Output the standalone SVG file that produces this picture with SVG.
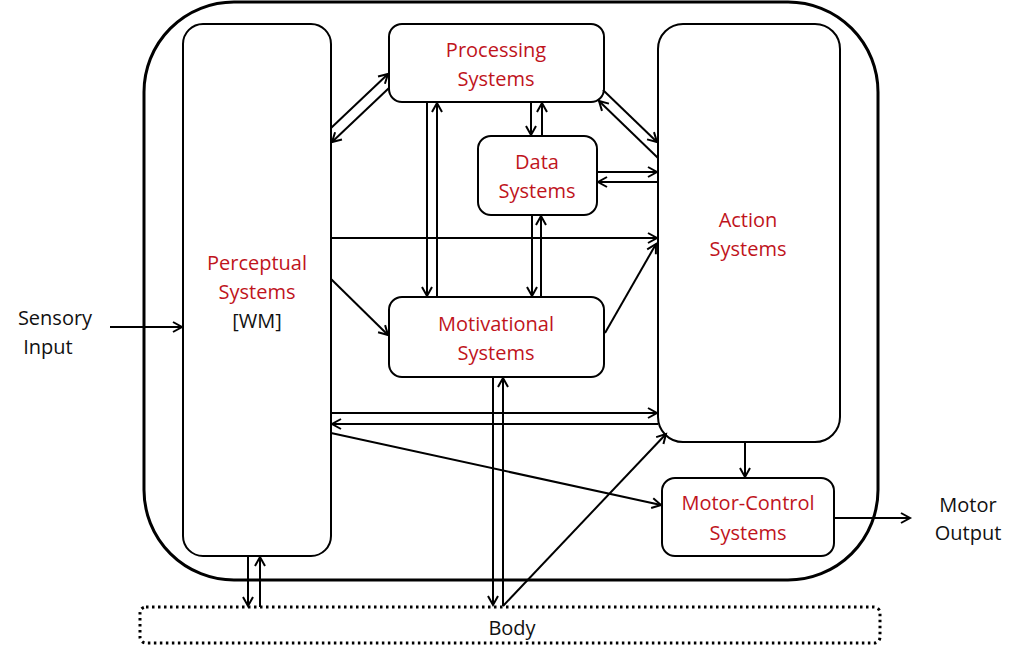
<svg xmlns="http://www.w3.org/2000/svg" width="1024" height="652" viewBox="0 0 1024 652">
<style>
.box{fill:#fff;stroke:#000;stroke-width:2}
.lbl{font-family:"Open Sans","Liberation Sans",sans-serif;font-size:20px;fill:#c0141c;text-anchor:middle}
.blk{font-family:"Open Sans","Liberation Sans",sans-serif;font-size:20px;fill:#111;text-anchor:middle}
.c line{stroke:#000;stroke-width:2;marker-end:url(#ah)}
</style>
<defs>
<marker id="ah" markerUnits="userSpaceOnUse" markerWidth="14" markerHeight="14" refX="10" refY="6" orient="auto" viewBox="0 0 14 12">
<path d="M1,1 L10,6 L1,11" fill="none" stroke="#000" stroke-width="2"/>
</marker>
</defs>
<rect width="1024" height="652" fill="#fff"/>
<g id="outer"><rect x="144" y="2" width="734" height="578" rx="90" ry="90" fill="none" stroke="#000" stroke-width="3"/></g>
<g id="body"><rect x="140" y="607" width="740" height="36" rx="6" fill="none" stroke="#000" stroke-width="3" stroke-dasharray="2.5 3.5"/><text class="blk" x="512" y="635">Body</text></g>
<g id="perceptual"><rect class="box" x="183" y="24" width="148" height="532" rx="20"/>
<text class="lbl" x="257" y="270">Perceptual</text><text class="lbl" x="257" y="299">Systems</text><text class="blk" x="257" y="328">[WM]</text></g>
<g id="processing"><rect class="box" x="389" y="24" width="215" height="78" rx="13"/>
<text class="lbl" x="496" y="57">Processing</text><text class="lbl" x="496" y="86">Systems</text></g>
<g id="data"><rect class="box" x="478" y="136" width="119" height="79" rx="13"/>
<text class="lbl" x="537" y="169">Data</text><text class="lbl" x="537" y="198">Systems</text></g>
<g id="motivational"><rect class="box" x="389" y="297" width="215" height="80" rx="13"/>
<text class="lbl" x="496" y="331">Motivational</text><text class="lbl" x="496" y="360">Systems</text></g>
<g id="action"><rect class="box" x="658" y="24" width="182" height="418" rx="25"/>
<text class="lbl" x="748" y="227">Action</text><text class="lbl" x="748" y="256">Systems</text></g>
<g id="motor"><rect class="box" x="662" y="478" width="172" height="78" rx="13"/>
<text class="lbl" x="748" y="510">Motor-Control</text><text class="lbl" x="748" y="540">Systems</text></g>
<g id="sensory"><text class="blk" x="55" y="325">Sensory</text><text class="blk" x="48" y="354">Input</text></g>
<g id="output"><text class="blk" x="968" y="512">Motor</text><text class="blk" x="968" y="540">Output</text></g>
<g class="c" id="connectors">
<line x1="110" y1="327" x2="182" y2="327"/>
<line x1="331" y1="128" x2="388" y2="74"/>
<line x1="389" y1="88" x2="332" y2="142"/>
<line x1="427" y1="102" x2="427" y2="296"/>
<line x1="437" y1="297" x2="437" y2="103"/>
<line x1="531" y1="102" x2="531" y2="135"/>
<line x1="542" y1="136" x2="542" y2="103"/>
<line x1="532" y1="215" x2="532" y2="296"/>
<line x1="541" y1="297" x2="541" y2="216"/>
<line x1="597" y1="172" x2="657" y2="172"/>
<line x1="658" y1="182" x2="598" y2="182"/>
<line x1="603" y1="90" x2="657" y2="142"/>
<line x1="658" y1="158" x2="599" y2="101"/>
<line x1="331" y1="238" x2="657" y2="238"/>
<line x1="605" y1="333" x2="656" y2="244"/>
<line x1="331" y1="279" x2="388" y2="335"/>
<line x1="331" y1="413" x2="657" y2="413"/>
<line x1="658" y1="424" x2="332" y2="424"/>
<line x1="331" y1="433" x2="661" y2="505"/>
<line x1="745" y1="442" x2="745" y2="477"/>
<line x1="834" y1="518" x2="910" y2="518"/>
<line x1="248" y1="556" x2="248" y2="606"/>
<line x1="260" y1="607" x2="260" y2="557"/>
<line x1="493" y1="377" x2="493" y2="605"/>
<line x1="503" y1="606" x2="503" y2="378"/>
<line x1="503" y1="606" x2="666" y2="434"/>
</g>
</svg>
